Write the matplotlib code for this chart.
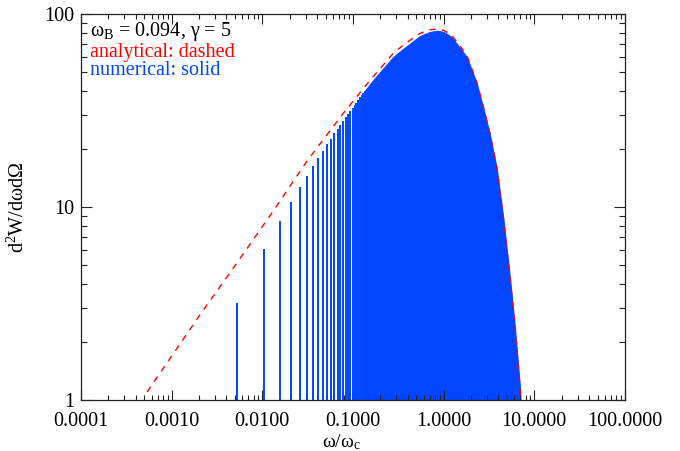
import numpy as np
import matplotlib
matplotlib.use("Agg")
import matplotlib.pyplot as plt
from matplotlib.ticker import LogLocator, FuncFormatter, NullFormatter

plt.rcParams['font.family'] = ['Liberation Serif', 'DejaVu Serif']
plt.rcParams['mathtext.fontset'] = 'custom'
plt.rcParams['mathtext.rm'] = 'Liberation Serif'
plt.rcParams['mathtext.it'] = 'Liberation Serif:italic'

# analytical curve (dashed)
ana_x = [5.35e-4, 2.05e-3, 5.21e-3, 0.01268, 0.0308, 0.0782, 0.1607, 0.278,
         0.359, 0.548, 0.70, 0.838, 1.0, 1.225, 1.795, 2.31, 2.74, 3.24,
         3.85, 4.55, 5.39, 6.12, 6.95, 7.13]
ana_y = [1.10, 2.76, 5.11, 9.28, 17.2, 30.6, 46.4, 62.5,
         69.1, 79.4, 82.8, 83.6, 82.3, 77.8, 61.3, 44.6, 33.1, 24.1,
         16.2, 8.91, 4.35, 2.40, 1.17, 1.0]

# numerical: separate harmonic lines at low frequency
harm_x = [0.0052, 0.0104, 0.0156, 0.0208, 0.0260, 0.0312, 0.0364, 0.0416,
          0.0468, 0.0520, 0.0572, 0.0624, 0.0676, 0.0728, 0.0780, 0.0832,
          0.0884, 0.0936, 0.0988, 0.1040, 0.1092, 0.1144, 0.1196, 0.1248,
          0.1300, 0.1352]
harm_y = [3.17, 6.04, 8.46, 10.6, 12.7, 14.5, 16.3, 17.9,
          19.5, 21.1, 22.6, 24.1, 25.5, 26.7, 27.9, 29.2,
          30.3, 31.6, 32.7, 33.8, 34.7, 35.8, 37.0, 38.0,
          39.1, 40.0]

# numerical: dense part (harmonics merge into a solid area)
env_x = [0.1352, 0.1607, 0.278, 0.359, 0.548, 0.70, 0.838, 1.0, 1.225,
         1.795, 2.31, 2.74, 3.24, 3.85, 4.55, 5.39, 6.12, 6.95, 7.03]
env_y = [40.0, 44.4, 59.9, 66.0, 76.9, 80.6, 81.9, 80.8, 76.0,
         59.9, 43.9, 32.4, 23.6, 15.8, 8.72, 4.26, 2.35, 1.15, 1.0]

blue = '#0045ff'
red = '#ff0000'

fig = plt.figure(figsize=(6.8, 4.51), dpi=100)
ax = fig.add_axes([81/680, 51/451, 544/680, 386/451])

ax.vlines(harm_x, 0.5, harm_y, color=blue, lw=1.4)
ax.fill_between(env_x, 0.5, env_y, color=blue, lw=0.8, edgecolor=blue)
ax.plot(ana_x, ana_y, color=red, lw=1.0, dashes=(4.5, 4.5))

ax.set_xscale('log')
ax.set_yscale('log')
ax.set_xlim(1e-4, 100)
ax.set_ylim(1, 100)

ax.xaxis.set_major_formatter(FuncFormatter(lambda v, p: '%.4f' % v))
ax.yaxis.set_major_formatter(FuncFormatter(lambda v, p: '%d' % round(v)))
ax.xaxis.set_minor_locator(LogLocator(base=10, subs=np.arange(2, 10), numticks=20))
ax.yaxis.set_minor_locator(LogLocator(base=10, subs=np.arange(2, 10), numticks=20))
ax.xaxis.set_minor_formatter(NullFormatter())
ax.yaxis.set_minor_formatter(NullFormatter())

ax.tick_params(axis='both', which='both', direction='in', top=True, right=True,
               labelsize=14.5, width=0.8, color='#222222')
ax.tick_params(axis='x', which='major', length=7, pad=8.5)
ax.tick_params(axis='x', which='minor', length=3.5)
ax.tick_params(axis='y', which='major', length=8, pad=5)
ax.tick_params(axis='y', which='minor', length=4)
for s in ax.spines.values():
    s.set_linewidth(0.9)
    s.set_color('#222222')

ax.set_xlabel('ω/ω${}_{\\mathrm{c}}$', fontsize=14)
ax.set_ylabel('d${}^{2}$W/dωdΩ', fontsize=14.5)
ax.xaxis.set_label_coords((341 - 81) / 544, -(32 / 386))
ax.yaxis.set_label_coords(-(81 - 29) / 544, 0.5)

ax.text(9/544, 1 - 22/386, 'ω${}_{\\mathrm{B}}$ = 0.094, γ = 5', transform=ax.transAxes,
        fontsize=14.5, color='black', va='baseline')
ax.text(9/544, 1 - 42.5/386, 'analytical: dashed', transform=ax.transAxes,
        fontsize=14.5, color=red, va='baseline')
ax.text(9/544, 1 - 61/386, 'numerical: solid', transform=ax.transAxes,
        fontsize=14.5, color=blue, va='baseline')

fig.savefig('out.png', dpi=100)
